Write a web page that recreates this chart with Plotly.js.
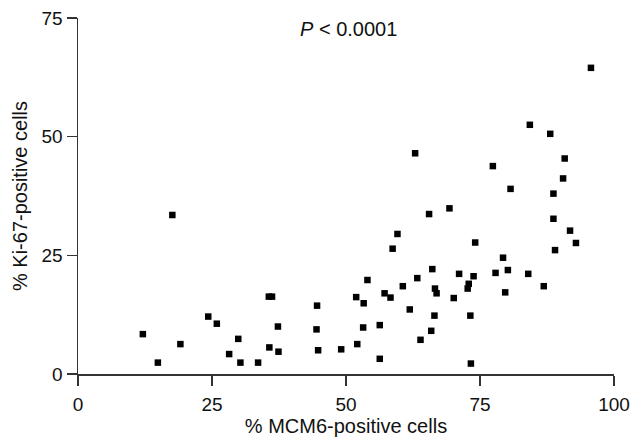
<!DOCTYPE html>
<html>
<head>
<meta charset="utf-8">
<script src="https://cdn.plot.ly/plotly-3.0.1.min.js"></script>
<style>html,body{margin:0;padding:0;background:#fff;}#chart{width:632px;height:437px;}</style>
</head>
<body>
<div id="chart"></div>
<script>
// % MCM6-positive cells
const mcm6 = [12.1, 14.9, 17.6, 19.1, 24.3, 25.9, 28.2, 29.9, 30.3, 33.6,
  35.6, 36.2, 35.7, 37.3, 37.4, 44.6, 44.5, 44.8, 49.1, 51.9,
  52.1, 53.2, 53.3, 54.0, 56.3, 56.3, 57.2, 58.3, 58.7, 59.6,
  60.6, 61.9, 62.9, 63.3, 63.9, 65.5, 65.9, 66.1, 66.5, 66.6,
  66.9, 69.3, 70.1, 71.1, 72.7, 72.9, 73.2, 73.3, 73.8, 74.1,
  77.4, 77.9, 79.3, 79.7, 80.2, 80.7, 84.0, 84.3, 86.9, 88.1,
  88.7, 88.7, 89.0, 90.5, 90.8, 91.8, 92.9, 95.7];
// % Ki-67-positive cells
const ki67 = [8.4, 2.4, 33.5, 6.3, 12.1, 10.6, 4.2, 7.4, 2.4, 2.4,
  16.3, 16.3, 5.6, 10.0, 4.7, 14.4, 9.4, 5.0, 5.2, 16.2,
  6.3, 9.8, 14.9, 19.8, 10.3, 3.2, 17.0, 16.1, 26.4, 29.5,
  18.5, 13.6, 46.5, 20.2, 7.2, 33.7, 9.1, 22.1, 12.3, 18.0,
  17.0, 34.9, 16.0, 21.1, 18.0, 19.0, 12.3, 2.2, 20.6, 27.7,
  43.8, 21.3, 24.5, 17.2, 21.9, 39.0, 21.1, 52.5, 18.5, 50.6,
  38.0, 32.7, 26.1, 41.2, 45.4, 30.2, 27.6, 64.5];
const xTicks = [0, 25, 50, 75, 100];
const yTicks = [0, 25, 50, 75];
const xTitle = '% MCM6-positive cells';
const yTitle = '% Ki-67-positive cells';
const pText = '<i>P</i> &lt; 0.0001';

const font = 'Liberation Sans, Arial, Helvetica, sans-serif';
const axisCommon = {
  showline: true, linecolor: '#333', linewidth: 1.5,
  ticks: 'outside', ticklen: 10, tickwidth: 1.5, tickcolor: '#333',
  showgrid: false, zeroline: false,
  tickfont: {family: font, size: 19, color: '#111'}
};
Plotly.newPlot('chart', [{
  x: mcm6, y: ki67, type: 'scatter', mode: 'markers',
  marker: {symbol: 'square', size: 6.5, color: '#000'},
  cliponaxis: false, hoverinfo: 'skip'
}], {
  width: 632, height: 437,
  margin: {l: 78, r: 18, t: 18, b: 63},
  paper_bgcolor: '#fff', plot_bgcolor: '#fff',
  showlegend: false,
  xaxis: Object.assign({}, axisCommon, {
    range: [0, 100], tickvals: xTicks, ticktext: xTicks.map(String),
    ticklabelstandoff: 3,
    title: {text: xTitle, font: {family: font, size: 20, color: '#111'}, standoff: 6}
  }),
  yaxis: Object.assign({}, axisCommon, {
    range: [0, 75], tickvals: yTicks, ticktext: yTicks.map(String),
    title: {text: yTitle, font: {family: font, size: 20, color: '#111'}, standoff: 8}
  }),
  annotations: [{
    x: 50.4, y: 72.7, xref: 'x', yref: 'y', text: pText, showarrow: false,
    font: {family: font, size: 20, color: '#111'}
  }]
}, {staticPlot: true});
</script>
</body>
</html>
